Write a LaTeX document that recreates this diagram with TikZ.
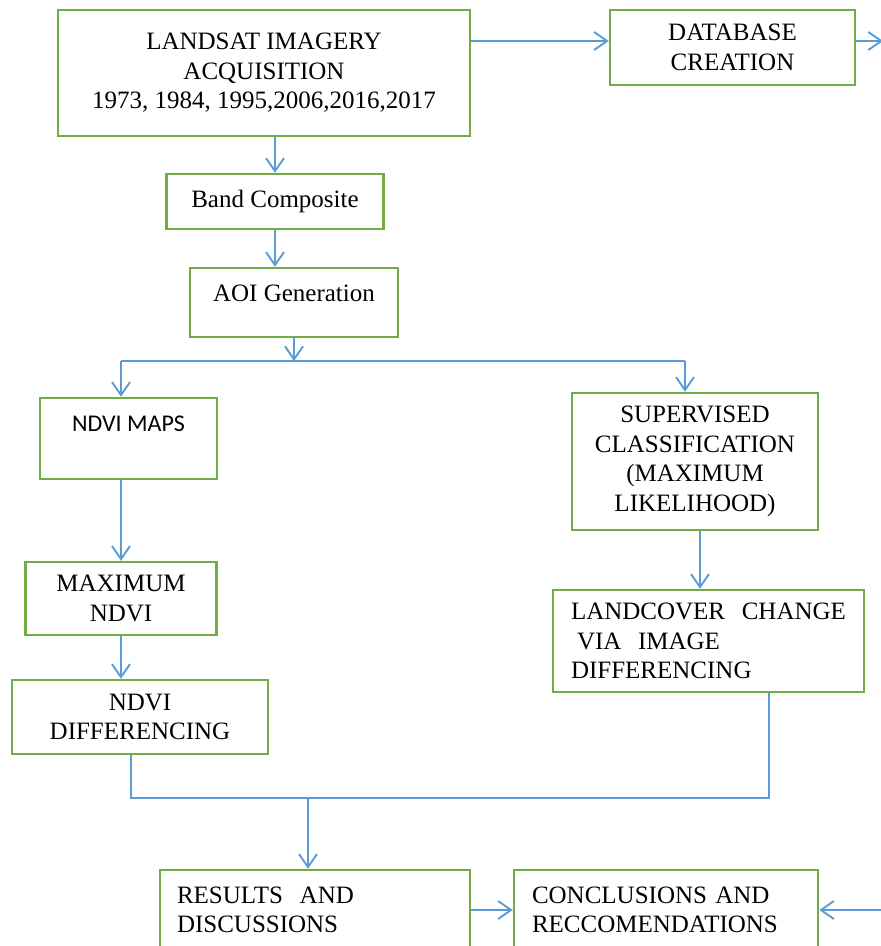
\documentclass[tikz,border=0pt]{standalone}
\usepackage{fontspec}
\setmainfont{Liberation Serif}
\newfontfamily\calibrifont{Carlito}
\usetikzlibrary{arrows.meta}
\definecolor{boxgreen}{HTML}{70AD47}
\definecolor{flowblue}{HTML}{5B9BD5}
\tikzset{
  box/.style={draw=boxgreen, line width=2.5pt, inner sep=0pt, align=center,
    font=\fontsize{25}{29.5}\selectfont},
  leftbox/.style={box, align=left, inner xsep=18pt},
  joint/.style={draw=flowblue, line width=1.9pt},
  flow/.style={joint, -{Straight Barb[length=13pt,width=18pt,line width=1.9pt]}}
}
\begin{document}
\begin{tikzpicture}[x=1pt,y=-1pt]
  \useasboundingbox (0,0) rectangle (881,946);
  \clip (0,0) rectangle (881,946);
  \node[box, minimum width=412pt, minimum height=126pt] (landsat) at (264,73)
    {LANDSAT IMAGERY\\ACQUISITION\\1973, 1984, 1995,2006,2016,2017};
  \node[box, minimum width=245pt, minimum height=75pt] (database) at (732.5,47.5)
    {DATABASE\\CREATION};
  \node[box, minimum width=217pt, minimum height=55pt] (band) at (275,201.5)
    {Band Composite};
  \node[box, minimum width=208pt, minimum height=69pt, text height=17pt, text depth=19pt]
    (aoi) at (294,302.5) {AOI Generation};
  \node[box, minimum width=177pt, minimum height=81pt, text height=16pt, text depth=31pt,
    font=\calibrifont\fontsize{24}{28}\selectfont] (ndvimaps) at (128.5,438.5) {NDVI MAPS};
  \node[box, minimum width=191pt, minimum height=73pt] (maxndvi) at (121,598.5)
    {MAXIMUM\\NDVI};
  \node[box, minimum width=256pt, minimum height=74pt] (ndvidiff) at (140,717)
    {NDVI\\DIFFERENCING};
  \node[box, minimum width=246pt, minimum height=137pt] (supervised) at (695,461.5)
    {SUPERVISED\\CLASSIFICATION\\(MAXIMUM\\LIKELIHOOD)};
  \node[leftbox, text width=275pt, minimum height=102pt] (landcover) at (708.5,641)
    {LANDCOVER~~CHANGE\\\hspace*{6pt}VIA~~IMAGE\\DIFFERENCING};
  \node[leftbox, inner xsep=17pt, text width=276pt, minimum height=80pt] (results) at (315,910)
    {RESULTS~~AND\\DISCUSSIONS};
  \node[leftbox, text width=268pt, minimum height=80pt] (conclusions) at (666,910)
    {CONCLUSIONS AND\\RECCOMENDATIONS};
  \coordinate (dbout) at (883,41);
  \coordinate (split) at (294,361);
  \coordinate (splitL) at (121,361);
  \coordinate (splitR) at (685,361);
  \coordinate (merge) at (308,798);
  \coordinate (recin) at (881,910);
  \draw[flow] ([yshift=32pt]landsat.east) -- ([yshift=32pt]landsat.east -| database.west);
  \draw[flow] (database.east |- dbout) -- (dbout);
  \draw[flow] (band.north |- landsat.south) -- (band.north);
  \draw[flow] (band.south) -- (band.south |- aoi.north);
  \draw[flow] (aoi.south) -- (split);
  \draw[joint] (splitL) -- (splitR);
  \draw[flow] (splitL) -- (splitL |- ndvimaps.north);
  \draw[flow] (splitR) -- (splitR |- supervised.north);
  \draw[flow] (ndvimaps.south -| maxndvi.north) -- (maxndvi.north);
  \draw[flow] (maxndvi.south) -- (maxndvi.south |- ndvidiff.north);
  \draw[flow] ([xshift=5pt]supervised.south) -- ([xshift=5pt]supervised.south |- landcover.north);
  \draw[joint] ([xshift=-9pt]ndvidiff.south) |- (merge) -| ([xshift=60.5pt]landcover.south);
  \draw[flow] (merge) -- (merge |- results.north);
  \draw[flow] (results.east) -- (conclusions.west);
  \draw[flow] (recin) -- (conclusions.east);
\end{tikzpicture}
\end{document}
